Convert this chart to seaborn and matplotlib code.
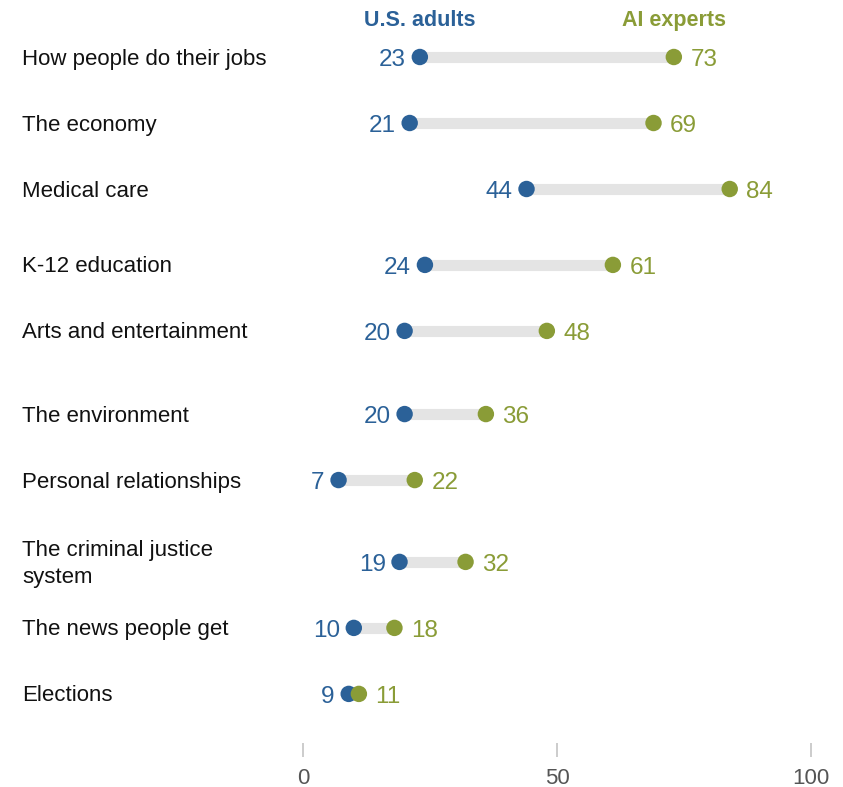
import matplotlib
matplotlib.use("Agg")
import matplotlib.pyplot as plt
import seaborn as sns
import pandas as pd

# Share (%) saying AI will have a positive impact on each area
categories = [
    "How people do their jobs",
    "The economy",
    "Medical care",
    "K-12 education",
    "Arts and entertainment",
    "The environment",
    "Personal relationships",
    "The criminal justice\nsystem",
    "The news people get",
    "Elections",
]
us_adults = [23, 21, 44, 24, 20, 20, 7, 19, 10, 9]
ai_experts = [73, 69, 84, 61, 48, 36, 22, 32, 18, 11]
x_ticks = [0, 50, 100]

# Extra vertical space (in row units) placed before some rows
extra_gap = [0, 0, 0, 0.15, 0, 0.26, 0, 0.24, 0, 0]

BLUE = "#2b6198"
GREEN = "#8a9c37"
GRAY = "#e4e4e4"
FONT = ["Liberation Sans", "DejaVu Sans"]

sns.set_theme(style="white")
plt.rcParams["font.family"] = FONT

pos = []
y = 0.0
for i, cat in enumerate(categories):
    y += extra_gap[i]
    pos.append(y)
    y += 1
df = pd.DataFrame({"category": categories, "ypos": pos,
                   "U.S. adults": us_adults, "AI experts": ai_experts})
long = df.melt(id_vars=["category", "ypos"], value_vars=["U.S. adults", "AI experts"],
               var_name="group", value_name="pct")

W, H = 843, 787
fig = plt.figure(figsize=(W / 100, H / 100), dpi=100)
ax = fig.add_axes([0, 0, 1, 1])

px_per_unit = 5.08
x0_px = 303
row_px = 66
top_px = 57
ax.set_xlim(-x0_px / px_per_unit, (W - x0_px) / px_per_unit)
ax.set_ylim((H - top_px) / row_px, -top_px / row_px)
ax.axis("off")

# connectors
ax.hlines(df["ypos"], df["U.S. adults"], df["AI experts"], color=GRAY, lw=8, zorder=1)

sns.scatterplot(data=long, x="pct", y="ypos", hue="group",
                palette={"U.S. adults": BLUE, "AI experts": GREEN},
                s=140, edgecolor="none", legend=False, ax=ax, zorder=3)

for _, r in df.iterrows():
    ax.annotate(f"{r['U.S. adults']}", (r["U.S. adults"], r["ypos"]),
                xytext=(-10, -2), textcoords="offset points",
                ha="right", va="center", color=BLUE, fontsize=17.5)
    ax.annotate(f"{r['AI experts']}", (r["AI experts"], r["ypos"]),
                xytext=(12, -2), textcoords="offset points",
                ha="left", va="center", color=GREEN, fontsize=17.5)
    ax.annotate(r["category"], (22 / W, r["ypos"]), xycoords=ax.get_yaxis_transform(),
                xytext=(0, -1.5), textcoords="offset points",
                ha="left", va="center", fontsize=16, color="#111111", linespacing=1.4)

# column headers above first row
ax.text(us_adults[0], -0.55, "U.S. adults", ha="center", va="center",
        color=BLUE, fontsize=15.5, fontweight="bold")
ax.text(ai_experts[0], -0.55, "AI experts", ha="center", va="center",
        color=GREEN, fontsize=15.5, fontweight="bold")

# bottom scale
tick_top = (743 - top_px) / row_px
tick_bot = (757 - top_px) / row_px
lab_y = (778 - top_px) / row_px
for t in x_ticks:
    ax.vlines(t, tick_top, tick_bot, color="#c4c4c4", lw=1.2)
    ax.text(t, lab_y, str(t), ha="center", va="center", color="#555555", fontsize=16)

fig.savefig("out.png", dpi=100, facecolor="white")
